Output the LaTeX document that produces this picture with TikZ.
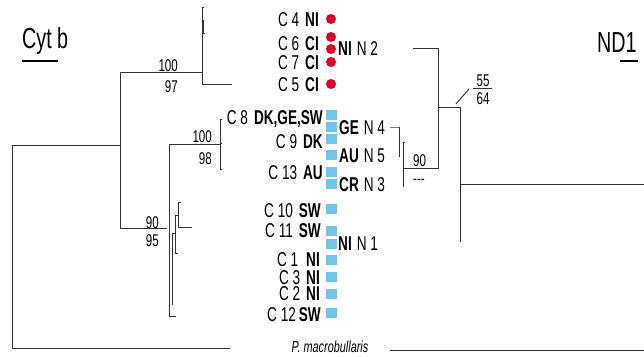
\documentclass[tikz,border=0pt]{standalone}
\usepackage{fontspec}
\setmainfont{Liberation Sans}[FakeStretch=0.68]
\definecolor{dotred}{RGB}{226,0,38}
\definecolor{sqblue}{RGB}{112,198,234}
\definecolor{treeline}{RGB}{50,50,50}
\begin{document}
\begin{tikzpicture}[x=1pt,y=-1pt,
  tree/.style={draw=treeline,line width=0.9pt},
  lab/.style={font=\fontsize{20}{20}\selectfont,inner sep=0pt},
  boot/.style={font=\fontsize{17}{17}\selectfont,inner sep=0pt},
  ttl/.style={font=\fontsize{29}{29}\selectfont,inner sep=0pt},
  rdot/.style={circle,fill=dotred,minimum size=10pt,inner sep=0pt},
  bsq/.style={rectangle,fill=sqblue,minimum width=11pt,minimum height=10pt,inner sep=0pt}]
\useasboundingbox (0,0) rectangle (644,356);

% titles
\node[ttl,anchor=base west] (cytb) at (22,48) {Cyt b};
\draw[line width=1.3pt] (22,61) -- (58,61);
\node[ttl,anchor=base west] (nd1) at (597,52) {ND1};
\draw[line width=1.3pt] (620,61) -- (638,61);

% ---------- left tree (Cyt b) ----------
\draw[tree] (120,145) -- (12,145) -- (12,348) -- (230,348);
\draw[tree] (202,72) -- (120,72) -- (120,228) -- (167,228);
% upper clade
\draw[tree] (204,7) -- (202,7) -- (202,84) -- (232,84);
\draw[tree] (203,20) -- (203,33) -- (205,33);
% lower clade
\draw[tree] (220,144) -- (169,144) -- (169,316) -- (176,316);
\draw[tree] (222,119) -- (220,119) -- (220,169) -- (222,169);
\draw[tree] (220,143) -- (222,143);
\draw[tree] (181,202) -- (178,202) -- (178,227) -- (192,227);
\draw[tree] (178,215) -- (175,215) -- (175,253) -- (178,253);
\draw[tree] (175,233) -- (172,233) -- (172,305);

\node[boot,anchor=base east] (b1a) at (178,71) {100};
\node[boot,anchor=base east] (b1b) at (178,92) {97};
\node[boot,anchor=base east] (b2a) at (212,142) {100};
\node[boot,anchor=base east] (b2b) at (212,164) {98};
\node[boot,anchor=base east] (b3a) at (159,228) {90};
\node[boot,anchor=base east] (b3b) at (159,246) {95};

% ---------- right tree (ND1) ----------
\draw[tree] (413,48) -- (438,48) -- (438,168) -- (403,168);
\draw[tree] (438,107) -- (460,107) -- (460,242);
\draw[tree] (460,184) -- (644,184);
\draw[tree] (405,142) -- (403,142) -- (403,187);
\draw[draw=gray,line width=0.9pt] (390,127) -- (399,127);
\draw[tree] (399,127) -- (399,157);
\draw[tree] (456,104) -- (469,89);
\node[boot,anchor=base] (r55) at (483,86) {55};
\draw[treeline,line width=0.8pt] (473,88) -- (492,88);
\node[boot,anchor=base] (r64) at (483,104) {64};
\node[boot,anchor=base west] (r90) at (413,166) {90};
\node[boot,anchor=base west] (rdash) at (413,184) {-{}-{}-};

% bottom outgroup
\draw[tree] (390,350) -- (644,350);
\node[font=\fontsize{16}{16}\selectfont\itshape,inner sep=0pt,anchor=base] (pmac) at (330,352) {P. macrobullaris};

% ---------- left labels ----------
\node[lab,anchor=base east] (c4) at (319,26) {C 4\hspace{6pt}\textbf{NI}};
\node[lab,anchor=base east] (c6) at (319,50) {C 6\hspace{6pt}\textbf{CI}};
\node[lab,anchor=base east] (c7) at (319,69) {C 7\hspace{6pt}\textbf{CI}};
\node[lab,anchor=base east] (c5) at (319,91) {C 5\hspace{6pt}\textbf{CI}};
\node[lab,anchor=base east] (c8) at (323,124) {C 8\hspace{6pt}\textbf{DK,GE,SW}};
\node[lab,anchor=base east] (c9) at (323,148) {C 9\hspace{6pt}\textbf{DK}};
\node[lab,anchor=base east] (c13) at (323,179) {C 13\hspace{6pt}\textbf{AU}};
\node[lab,anchor=base east] (c10) at (321,217) {C 10\hspace{6pt}\textbf{SW}};
\node[lab,anchor=base east] (c11) at (321,237) {C 11\hspace{6pt}\textbf{SW}};
\node[lab,anchor=base east] (c1) at (320,266) {C 1\hspace{8pt}\textbf{NI}};
\node[lab,anchor=base east] (c3) at (320,284) {C 3\hspace{6pt}\textbf{NI}};
\node[lab,anchor=base east] (c2) at (320,300) {C 2\hspace{6pt}\textbf{NI}};
\node[lab,anchor=base east] (c12) at (321,321) {C 12\hspace{3pt}\textbf{SW}};

% ---------- symbols ----------
\foreach \yy [count=\i] in {19,37,49,62,84}
  \node[rdot] (rd\i) at (331,\yy) {};
\foreach \yy [count=\i] in {115,127,139,155,172,184,209,231,244,260,277,294,313}
  \node[bsq] (bs\i) at (331,\yy) {};

% ---------- right labels ----------
\node[lab,anchor=base west] (n2) at (338,55) {\textbf{NI}\hspace{5pt}N 2};
\node[lab,anchor=base west] (n4) at (339,134) {\textbf{GE}\hspace{5pt}N 4};
\node[lab,anchor=base west] (n5) at (339,162) {\textbf{AU}\hspace{5pt}N 5};
\node[lab,anchor=base west] (n3) at (339,191) {\textbf{CR}\hspace{5pt}N 3};
\node[lab,anchor=base west] (n1) at (338,250) {\textbf{NI}\hspace{5pt}N 1};
\end{tikzpicture}
\end{document}
